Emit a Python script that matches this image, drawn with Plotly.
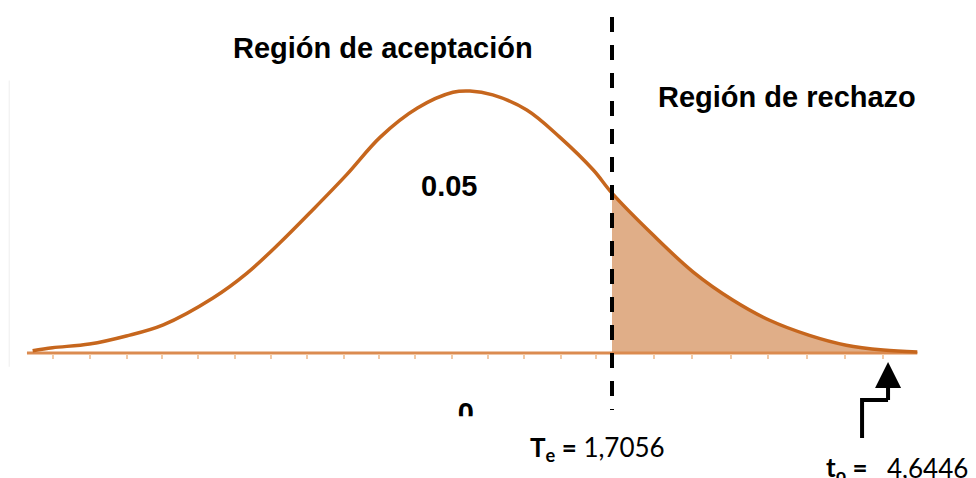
import plotly.graph_objects as go

# curve (x in sigma units, y as density)
curve_x = [-3.08, -2.94, -2.68, -2.42, -2.16, -1.81, -1.57, -1.34, -1.11, -0.87, -0.63, -0.37, -0.12, 0.0,
           0.16, 0.40, 0.63, 0.87, 1.00, 1.29, 1.57, 1.85, 2.11, 2.39, 2.65, 2.91, 3.15]
curve_y = [0.0035, 0.0081, 0.0137, 0.026, 0.043, 0.084, 0.122, 0.168, 0.218, 0.272, 0.330, 0.374, 0.398, 0.400,
           0.394, 0.371, 0.330, 0.279, 0.244, 0.180, 0.124, 0.081, 0.050, 0.027, 0.012, 0.0046, 0.0015]
tick_x = [-2.937, -2.676, -2.415, -2.169, -1.915, -1.655, -1.401, -1.148, -0.887, -0.641, -0.387, -0.127,
          0.127, 0.380, 0.641, 0.887, 1.296, 1.563, 1.838, 2.099, 2.373, 2.641, 2.908]
base_x = [-3.12, 3.15]
crit = 1.0          # dashed line (critical value)
t_obs = 2.944       # where the arrow points

tail_x = [x for x in curve_x if x >= crit]
tail_y = [y for x, y in zip(curve_x, curve_y) if x >= crit]

fig = go.Figure()
fig.add_trace(go.Scatter(x=tail_x, y=tail_y, mode='lines', line=dict(width=0, shape='spline'),
                         fill='tozeroy', fillcolor='#e0ae88'))
fig.add_trace(go.Scatter(x=base_x, y=[0, 0], mode='lines', line=dict(color='#db8b50', width=3)))
fig.add_trace(go.Scatter(x=curve_x, y=curve_y, mode='lines', line=dict(color='#c6661d', width=3.5, shape='spline')))
fig.add_trace(go.Scatter(x=[crit, crit], y=[0.513, -0.087], mode='lines',
                         line=dict(color='black', width=4, dash='15px,13px')))
fig.add_trace(go.Scatter(x=[-0.03], y=[-0.095], mode='text', text=['<b>0</b>'],
                         textfont=dict(family='Liberation Sans', size=29, color='black')))

# hides the lower part of the "0", as in the reference
fig.add_shape(type='rect', x0=-0.25, x1=0.25, y0=-0.0967, y1=-0.19, fillcolor='white', line_width=0, layer='above')
fig.add_shape(type='line', x0=-3.245, x1=-3.245, y0=0.416, y1=-0.021, line=dict(color='#eeeeee', width=1))
# elbow of the arrow
fig.add_shape(type='path', path='M 2.761,-0.1298 L 2.761,-0.0718 L 2.944,-0.0718',
              line=dict(color='black', width=4))
fig.add_annotation(x=t_obs, y=-0.0137, ax=t_obs, ay=-0.0740, axref='x', ayref='y', text='',
                   showarrow=True, arrowhead=2, arrowsize=1.3, arrowwidth=4, arrowcolor='black')

bold = dict(family='Liberation Sans', size=29, color='black')
fig.add_annotation(x=-0.61, y=0.4655, text='<b>Región de aceptación</b>', showarrow=False, font=bold)
fig.add_annotation(x=2.23, y=0.391, text='<b>Región de rechazo</b>', showarrow=False, font=bold)
fig.add_annotation(x=-0.15, y=0.255, text='<b>0.05</b>', showarrow=False, font=bold)

lato = dict(family='Lato', size=26, color='black')
fig.add_annotation(x=0.90, y=-0.145, text='<b>T<sub>e</sub> =</b> 1,7056', showarrow=False, font=lato)
fig.add_annotation(x=2.49, y=-0.176, text='<b>t<sub>o</sub> =</b>', showarrow=False, font=lato,
                   xanchor='left')
fig.add_annotation(x=2.925, y=-0.176, text='4,6446', showarrow=False, font=lato, xanchor='left')

# page has an 8px body margin, so the figure is drawn 8px smaller
fig.update_layout(
    width=968, height=470,
    margin=dict(l=0, r=0, t=0, b=0),
    paper_bgcolor='white', plot_bgcolor='white',
    showlegend=False,
    xaxis=dict(range=[-3.2535, 3.5634], anchor='free', position=0.26596, showgrid=False, zeroline=False,
               showline=False, showticklabels=False, ticks='outside', tickvals=tick_x, ticklen=5,
               tickwidth=2, tickcolor='#f2c9a6'),
    yaxis=dict(range=[-0.1908, 0.5267], visible=False, showgrid=False, zeroline=False),
)
fig.write_html("out.html")
